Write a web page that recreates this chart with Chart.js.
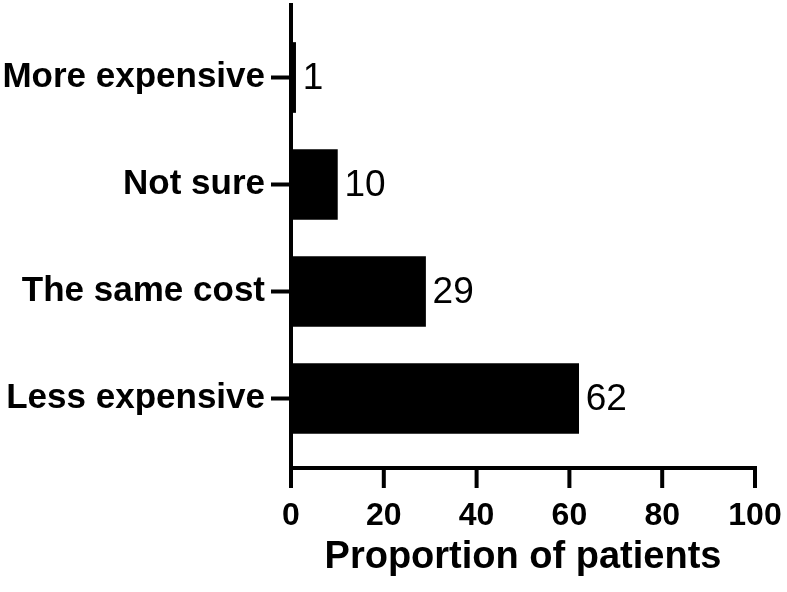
<!DOCTYPE html>
<html>
<head>
<meta charset="utf-8">
<script src="https://cdn.jsdelivr.net/npm/chart.js@4/dist/chart.umd.min.js"></script>
<style>
  body { margin: 0; background: #fff; }
  canvas { display: block; }
</style>
</head>
<body>
<canvas id="chart" width="787" height="592"></canvas>
<script>
const categories = ["More expensive", "Not sure", "The same cost", "Less expensive"];
const proportions = [1, 10, 29, 62];
const xTicks = [0, 20, 40, 60, 80, 100];
const axisTitle = "Proportion of patients";

const fontFamily = "'Liberation Sans', Arial, sans-serif";

// graphpad style offset axes + value labels
const axesPlugin = {
  id: "axes",
  afterDraw(chart) {
    const ctx = chart.ctx;
    const area = chart.chartArea;
    const xScale = chart.scales.x;
    const yScale = chart.scales.y;
    const axisY = area.bottom + 16;
    ctx.save();
    ctx.strokeStyle = "#000";
    ctx.lineWidth = 4;
    ctx.lineCap = "butt";
    ctx.beginPath();
    ctx.moveTo(area.left, area.top - 21);
    ctx.lineTo(area.left, axisY + 2);
    ctx.moveTo(area.left - 2, axisY);
    ctx.lineTo(area.right + 2, axisY);
    xTicks.forEach((t) => {
      const px = xScale.getPixelForValue(t);
      ctx.moveTo(px, axisY);
      ctx.lineTo(px, axisY + 20);
    });
    categories.forEach((c, i) => {
      const py = yScale.getPixelForValue(i);
      ctx.moveTo(area.left - 20, py);
      ctx.lineTo(area.left, py);
    });
    ctx.stroke();

    ctx.fillStyle = "#000";
    ctx.font = "37px " + fontFamily;
    ctx.textAlign = "left";
    ctx.textBaseline = "middle";
    const meta = chart.getDatasetMeta(0);
    meta.data.forEach((bar, i) => {
      ctx.fillText(String(proportions[i]), bar.x + 7, bar.y + 1);
    });
    ctx.restore();
  },
};

new Chart(document.getElementById("chart"), {
  type: "bar",
  data: {
    labels: categories,
    datasets: [
      {
        data: proportions,
        backgroundColor: "#000",
        borderWidth: 0,
        barThickness: 70,
      },
    ],
  },
  options: {
    indexAxis: "y",
    responsive: false,
    animation: false,
    layout: { padding: { top: 24, right: 32, bottom: 0, left: 0 } },
    plugins: {
      legend: { display: false },
      tooltip: { enabled: false },
    },
    scales: {
      x: {
        type: "linear",
        min: 0,
        max: 100,
        afterBuildTicks: (scale) => {
          scale.ticks = xTicks.map((v) => ({ value: v }));
        },
        afterFit: (scale) => {
          scale.height = 140;
          scale.paddingLeft = 0;
          scale.paddingRight = 0;
        },
        grid: { display: false, drawTicks: false },
        border: { display: false },
        ticks: {
          color: "#000",
          padding: 45,
          font: { family: fontFamily, size: 32, weight: "bold" },
        },
        title: {
          display: true,
          text: axisTitle,
          color: "#000",
          padding: { top: 0, bottom: 12 },
          font: { family: fontFamily, size: 38, weight: "bold" },
        },
      },
      y: {
        afterFit: (scale) => {
          scale.width = 291;
          scale.paddingTop = 0;
          scale.paddingBottom = 0;
        },
        grid: { display: false, drawTicks: false },
        border: { display: false },
        ticks: {
          color: "#000",
          padding: 26,
          font: { family: fontFamily, size: 35, weight: "bold" },
        },
      },
    },
  },
  plugins: [axesPlugin],
});
</script>
</body>
</html>
